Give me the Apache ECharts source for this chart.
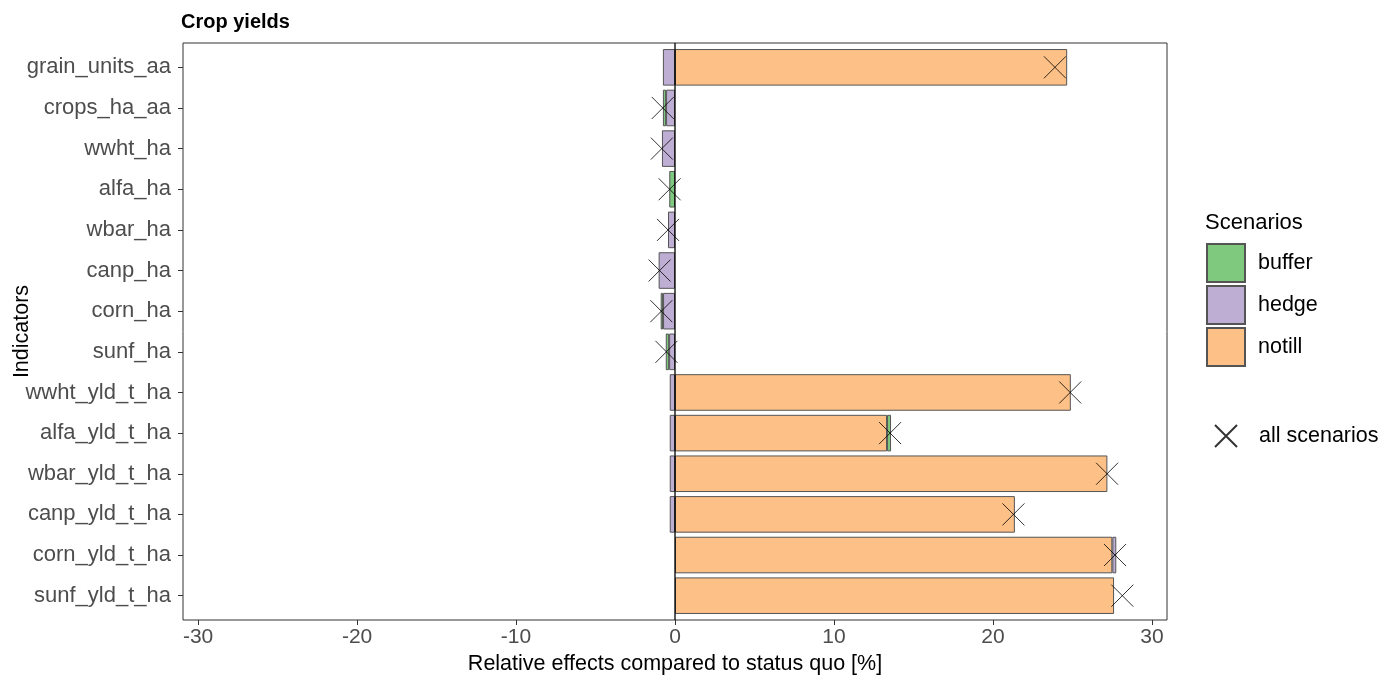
<!DOCTYPE html>
<html>
<head>
<meta charset="utf-8">
<script src="https://cdn.jsdelivr.net/npm/echarts@6/dist/echarts.min.js"></script>
<style>html,body{margin:0;padding:0;background:#fff;}#c{width:1385px;height:683px;}</style>
</head>
<body>
<div id="c"></div>
<script>
const categories = ['grain_units_aa','crops_ha_aa','wwht_ha','alfa_ha','wbar_ha','canp_ha','corn_ha','sunf_ha','wwht_yld_t_ha','alfa_yld_t_ha','wbar_yld_t_ha','canp_yld_t_ha','corn_yld_t_ha','sunf_yld_t_ha'];
const buffer = [null, -0.2, null, -0.36, null, null, -0.15, -0.21, null, 0.25, null, null, null, null];
const hedge  = [-0.76, -0.56, -0.82, null, -0.44, -1.03, -0.75, -0.37, -0.33, -0.33, -0.33, -0.33, 0.25, null];
const notill = [24.67, null, null, null, null, null, null, null, 24.9, 13.34, 27.2, 21.38, 27.51, 27.62];
const allScenarios = [23.9, -0.77, -0.83, -0.34, -0.44, -0.97, -0.86, -0.54, 24.86, 13.53, 27.18, 21.29, 27.68, 28.14];
const xTicks = [-30, -20, -10, 0, 10, 20, 30];
const xMin = -30.95, xMax = 30.95;

const FONT = "'Liberation Sans', Arial, sans-serif";
const colors = {buffer: '#7FC97F', hedge: '#BEAED4', notill: '#FDC086'};
const xPath = 'path://M0,0L10,10M10,0L0,10';

const chart = echarts.init(document.getElementById('c'), null, {renderer: 'canvas'});
function barSeries(name, data) {
  return {
    name: name, type: 'bar', stack: 'total', xAxisIndex: 1, yAxisIndex: 1,
    data: data, barWidth: '90%',
    itemStyle: {color: colors[name], borderColor: '#555555', borderWidth: 1},
    emphasis: {disabled: true}, z: 2
  };
}
chart.setOption({
  animation: false,
  textStyle: {fontFamily: FONT},
  title: [
    {text: 'Crop yields', left: 176, top: 7, textStyle: {fontFamily: FONT, fontSize: 20, fontWeight: 'bold', color: '#000'}},
    {text: 'Scenarios', left: 1200, top: 207, textStyle: {fontFamily: FONT, fontSize: 22, fontWeight: 'normal', color: '#000'}}
  ],
  legend: [
    {
      data: ['buffer', 'hedge', 'notill'], orient: 'vertical', left: 1201, top: 238,
      itemWidth: 38, itemHeight: 38, itemGap: 2, icon: 'rect',
      textStyle: {fontFamily: FONT, fontSize: 21.5, color: '#000', padding: [0, 0, 0, 8]},
      selectedMode: false
    },
    {
      data: ['all scenarios'], orient: 'vertical', left: 1209, top: 419,
      itemWidth: 22, itemHeight: 22, icon: xPath,
      textStyle: {fontFamily: FONT, fontSize: 21.5, color: '#000', padding: [0, 0, 0, 17]},
      selectedMode: false
    }
  ],
  grid: [
    {left: 183, right: 218, top: 43, bottom: 63, show: true, borderColor: '#333333', borderWidth: 1,
     backgroundColor: 'transparent', containLabel: false, outerBoundsMode: 'none'},
    {left: 183, right: 218, top: 47, bottom: 67, show: false, containLabel: false, outerBoundsMode: 'none'}
  ],
  xAxis: [
    {
      type: 'value', gridIndex: 0, min: xMin, max: xMax,
      axisLine: {show: false, onZero: false}, splitLine: {show: false},
      axisTick: {show: true, length: 5, lineStyle: {color: '#333333'}, customValues: xTicks},
      axisLabel: {fontFamily: FONT, fontSize: 21, color: '#4D4D4D', margin: 7, customValues: xTicks},
      name: 'Relative effects compared to status quo [%]', nameLocation: 'middle', nameGap: 33,
      nameTextStyle: {fontFamily: FONT, fontSize: 21.5, color: '#000'}
    },
    {type: 'value', gridIndex: 1, min: xMin, max: xMax, show: false, axisLine: {onZero: false}}
  ],
  yAxis: [
    {type: 'value', gridIndex: 0, min: 0, max: 1, show: false, axisLine: {onZero: false}},
    {
      type: 'category', gridIndex: 1, data: categories, inverse: true, position: 'left',
      axisLine: {show: false, onZero: false}, splitLine: {show: false},
      axisTick: {show: true, length: 5, alignWithLabel: true, lineStyle: {color: '#333333'}},
      axisLabel: {fontFamily: FONT, fontSize: 22, color: '#4D4D4D', margin: 12, padding: [4, 0, 0, 0]},
      name: 'Indicators', nameLocation: 'middle', nameGap: 150, nameRotate: 90, nameMoveOverlap: false,
      nameTextStyle: {fontFamily: FONT, fontSize: 21.5, color: '#000'}
    }
  ],
  series: [
    barSeries('notill', notill),
    barSeries('hedge', hedge),
    barSeries('buffer', buffer),
    {
      name: 'zero', type: 'line', xAxisIndex: 0, yAxisIndex: 0,
      data: [[0, 0], [0, 1]], symbol: 'none', silent: true,
      lineStyle: {color: '#000', width: 1.3}, z: 5
    },
    {
      name: 'all scenarios', type: 'scatter', xAxisIndex: 1, yAxisIndex: 1,
      data: allScenarios, symbol: xPath, symbolSize: 22,
      itemStyle: {color: 'rgba(0,0,0,0)', borderColor: '#000', borderWidth: 1},
      emphasis: {disabled: true}, z: 6
    }
  ]
});
</script>
</body>
</html>
